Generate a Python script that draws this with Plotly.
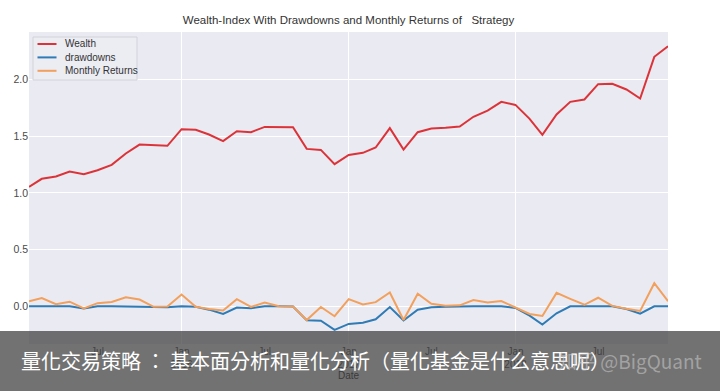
import plotly.graph_objects as go
import pandas as pd

# ---- data ----
dates = pd.date_range("2015-02-01", periods=47, freq="MS")

wealth = [1.053, 1.124, 1.144, 1.188, 1.165, 1.200, 1.247, 1.347, 1.426, 1.418,
          1.415, 1.562, 1.556, 1.515, 1.456, 1.544, 1.535, 1.582, 1.582, 1.579,
          1.388, 1.379, 1.253, 1.335, 1.353, 1.400, 1.571, 1.382, 1.535, 1.568,
          1.574, 1.585, 1.671, 1.726, 1.803, 1.776, 1.653, 1.512, 1.691, 1.803,
          1.824, 1.959, 1.962, 1.912, 1.832, 2.200, 2.294]

drawdowns = [0.0, 0.0, 0.0, 0.0, -0.019, 0.0, 0.0, 0.0, 0.0, -0.006,
             -0.008, 0.0, -0.004, -0.030, -0.068, -0.012, -0.017, 0.0, 0.0, -0.002,
             -0.123, -0.128, -0.208, -0.156, -0.145, -0.115, -0.007, -0.126, -0.030, -0.009,
             -0.005, 0.0, 0.0, 0.0, 0.0, -0.015, -0.083, -0.161, -0.062, 0.0,
             0.0, 0.0, 0.0, -0.025, -0.066, 0.0, 0.0]

monthly_returns = [0.044, 0.072, 0.018, 0.040, -0.020, 0.027, 0.037, 0.080, 0.059, -0.005,
                   -0.002, 0.104, -0.004, -0.024, -0.038, 0.062, -0.006, 0.032, 0.000, -0.002,
                   -0.122, -0.006, -0.088, 0.063, 0.015, 0.036, 0.121, -0.121, 0.111, 0.022,
                   0.005, 0.008, 0.055, 0.034, 0.046, -0.014, -0.068, -0.086, 0.118, 0.065,
                   0.013, 0.075, 0.003, -0.023, -0.042, 0.203, 0.045]

series_names = ["Wealth", "drawdowns", "Monthly Returns"]
series_colors = ["#dc3339", "#2f7bb5", "#f2a05c"]

jan_ticks = ["2016-01-01", "2017-01-01", "2018-01-01"]
jan_labels = ["Jan<br>2016", "Jan<br>2017", "Jan<br>2018"]
jul_ticks = ["2015-07-01", "2016-07-01", "2017-07-01", "2018-07-01"]
jul_labels = ["Jul", "Jul", "Jul", "Jul"]

y_ticks = [0.0, 0.5, 1.0, 1.5, 2.0]

title_text = "Wealth-Index With Drawdowns and Monthly Returns of\u00a0\u00a0\u00a0Strategy"
banner_text = "量化交易策略 ： 基本面分析和量化分析（量化基金是什么意思呢）"
watermark_text = "知乎 @BigQuant"

# ---- figure ----
W, H = 720, 391
L, R, T, B = 29, 52, 32, 47
pw, ph = W - L - R, H - T - B

def px(x):
    return (x - L) / pw

def py(y):
    return (H - B - y) / ph

fig = go.Figure()
for name, vals, col in zip(series_names, [wealth, drawdowns, monthly_returns], series_colors):
    fig.add_trace(go.Scatter(x=dates, y=vals, mode="lines", name=name,
                             line=dict(color=col, width=2), showlegend=False))

# dummy trace for the overlay axis carrying the "Jul" labels
fig.add_trace(go.Scatter(x=[dates[0]], y=[None], xaxis="x2", mode="lines",
                         showlegend=False, hoverinfo="skip"))

font_main = "Liberation Sans, Arial, DejaVu Sans, sans-serif"
xr = [dates[0], dates[-1]]

fig.update_layout(
    width=W, height=H,
    margin=dict(l=L, r=R, t=T, b=B, pad=0),
    paper_bgcolor="white",
    plot_bgcolor="#EAEAF2",
    font=dict(family=font_main, color="#444"),
    showlegend=False,
    title=dict(text=title_text, x=px(348.5), xref="paper", xanchor="center",
               y=1 - 20 / H, yref="container", yanchor="middle",
               font=dict(size=11.5, color="#333")),
    xaxis=dict(type="date", range=xr, tickvals=jan_ticks, ticktext=jan_labels,
               showgrid=True, gridcolor="white", gridwidth=1, zeroline=False,
               showline=False, ticks="", tickfont=dict(size=10, color="#333"),
               title=dict(text="Date", font=dict(size=10, color="#3a3a3a"), standoff=2)),
    xaxis2=dict(type="date", range=xr, overlaying="x", anchor="y", side="bottom",
                tickvals=jul_ticks, ticktext=jul_labels, showgrid=False,
                zeroline=False, showline=False, ticks="",
                tickfont=dict(size=10, color="#333")),
    yaxis=dict(range=[-0.333, 2.419], tickvals=y_ticks, tickformat=".1f",
               showgrid=True, gridcolor="white", gridwidth=1, zeroline=False,
               showline=False, ticks="", tickfont=dict(size=10.5, color="#4a4a4a")),
)

# legend (drawn manually to match the compact matplotlib legend)
shapes = [dict(type="rect", xref="paper", yref="paper", layer="above",
               x0=px(33), x1=px(137), y0=py(80), y1=py(37),
               fillcolor="rgba(236,236,243,0.9)", line=dict(color="#d2d2da", width=1))]
annotations = []
for i, (name, col) in enumerate(zip(series_names, series_colors)):
    yy = 44 + i * 13.4
    shapes.append(dict(type="line", xref="paper", yref="paper", layer="above",
                       x0=px(37.5), x1=px(56.5), y0=py(yy), y1=py(yy),
                       line=dict(color=col, width=2)))
    annotations.append(dict(text=name, xref="paper", yref="paper", x=px(63),
                            y=py(yy), xanchor="left", yanchor="middle",
                            showarrow=False, font=dict(size=10, color="#333")))

# overlay banner
shapes.append(dict(type="rect", xref="paper", yref="paper", layer="above",
                   x0=px(-2), x1=px(W + 2), y0=py(H + 2), y1=py(331),
                   fillcolor="rgba(70,70,70,0.76)", line=dict(width=0)))
annotations.append(dict(text=banner_text, xref="paper", yref="paper", x=px(19),
                        y=py(360), xanchor="left", yanchor="middle", showarrow=False,
                        font=dict(size=20, color="white",
                                  family="Noto Sans CJK TC, Noto Sans CJK SC, sans-serif")))
annotations.append(dict(text=watermark_text, xref="paper", yref="paper", x=px(704),
                        y=py(360), xanchor="right", yanchor="middle", showarrow=False,
                        font=dict(size=19, color="rgba(205,205,205,0.55)",
                                  family="Noto Sans CJK SC, sans-serif")))

fig.update_layout(shapes=shapes, annotations=annotations)
fig.write_html("out.html", config={"displayModeBar": False},
               post_script="document.body.style.margin='0';document.body.style.overflow='hidden';")
